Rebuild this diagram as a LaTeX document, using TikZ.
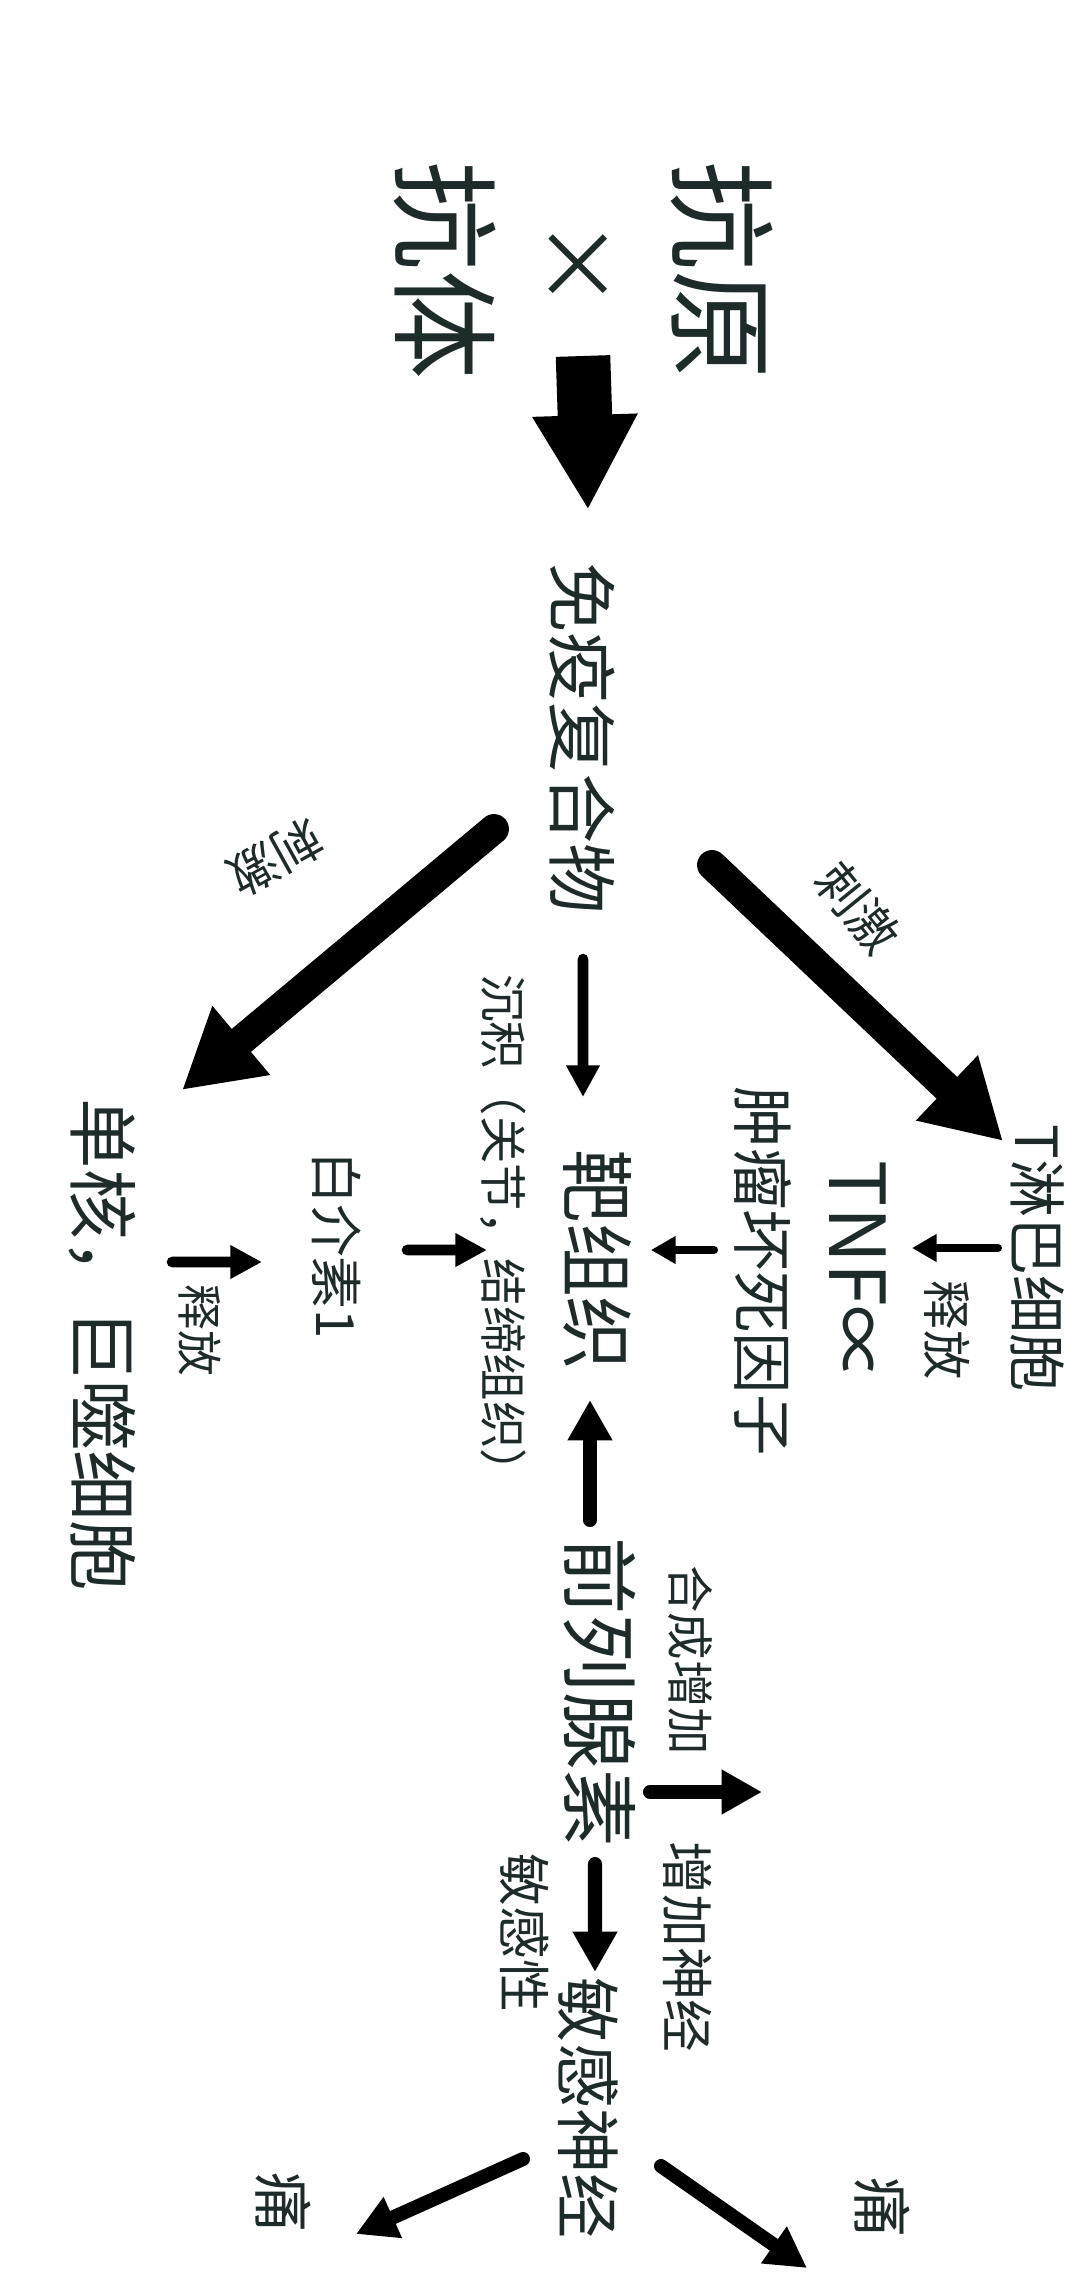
\documentclass[tikz,border=0pt]{standalone}
\usepackage{fontspec}
\usetikzlibrary{arrows.meta}
\newfontfamily\cjk{Noto Sans CJK SC}
\definecolor{ink}{HTML}{1E2B2B}
\newcommand{\fsz}[1]{\fontsize{#1pt}{#1pt}\selectfont}

\begin{document}
\begin{tikzpicture}[
    txt/.style={font=\cjk, text=ink, inner sep=0pt},
    vtxt/.style={txt, rotate=-90},
    thinarrow/.style={line width=2.3pt, line cap=round, -{Triangle[length=7pt,width=7.5pt]}},
    midarrow/.style={line width=3pt, line cap=round, -{Triangle[length=9pt,width=9pt]}},
    medarrow/.style={line width=4pt, line cap=round, -{Triangle[length=11.5pt,width=12pt]}},
    thickarrow/.style={line width=8.5pt, line cap=round, -{Triangle[length=22pt,width=24pt]}},
    blockarrow/.style={line width=15.5pt, -{Triangle[length=27pt,width=28pt]}}
]
    \fill[white] (0,0) rectangle (10.8,-22.8);
    \useasboundingbox (0,0) rectangle (10.8,-22.8);

    % antigen x antibody
    \node[vtxt] (antigen) at (7.22,-2.70) {\fsz{31}抗原};
    \node[txt] (times) at (5.78,-2.67) {\fsz{26}×};
    \node[vtxt] (antibody) at (4.45,-2.70) {\fsz{31}抗体};
    \node[vtxt] (immune) at (5.82,-7.38) {\fsz{20}免疫复合物};

    % middle row
    \node[vtxt] (tcell) at (10.38,-12.58) {\fsz{16.5}T淋巴细胞};
    \node[vtxt] (relR) at (9.47,-13.30) {\fsz{14}释放};
    \node[vtxt] (tnf) at (8.58,-12.72) {\fsz{22}TNF∝};
    \node[vtxt] (tnfname) at (7.63,-12.71) {\fsz{17.5}肿瘤坏死因子};
    \node[vtxt] (target) at (5.98,-12.60) {\fsz{21}靶组织};
    \node[vtxt] (deposit) at (5.03,-12.35) {\fsz{13.5}沉积（关节，结缔组织）};
    \node[vtxt] (il1) at (3.37,-12.45) {\fsz{15}白介素1};
    \node[vtxt] (relL) at (2.00,-13.30) {\fsz{13}释放};
    \node[vtxt] (mono) at (1.02,-13.45) {\fsz{20}单核，巨噬细胞};
    \node[txt, rotate=-151] (stimL) at (2.76,-8.58) {\fsz{14}刺激};
    \node[txt, rotate=-51] (stimR) at (8.58,-9.08) {\fsz{14}刺激};

    % prostaglandin
    \node[vtxt] (pg) at (6.00,-16.92) {\fsz{22}前列腺素};
    \node[vtxt] (synth) at (6.90,-16.60) {\fsz{13.5}合成增加};
    \node[vtxt] (incnerve) at (6.88,-19.47) {\fsz{15}增加神经};
    \node[vtxt] (sens) at (5.25,-19.33) {\fsz{15}敏感性};
    \node[vtxt] (sensnerve) at (5.88,-21.08) {\fsz{18.5}敏感神经};
    \node[vtxt] (painL) at (2.83,-22.02) {\fsz{17}痛};
    \node[vtxt] (painR) at (8.82,-22.07) {\fsz{17}痛};
    \coordinate (pgout) at (7.62,-17.92);

    % arrows
    \draw[blockarrow] ([shift={(0.05,-0.89)}]times.center) -- ([shift={(0.06,2.28)}]immune.center);
    \draw[thickarrow] ([shift={(-0.88,-0.91)}]immune.center) -- ([shift={(0.80,2.55)}]mono.center);
    \draw[thickarrow] ([shift={(1.30,-1.27)}]immune.center) -- ([shift={(-0.35,1.17)}]tcell.center);
    \draw[midarrow] ([shift={(0.01,-2.21)}]immune.center) -- ([shift={(-0.15,1.63)}]target.center);

    \draw[thinarrow] ([shift={(-0.40,0.10)}]tcell.center) -- ([shift={(0.54,0.24)}]tnf.center);
    \draw[thinarrow] ([shift={(-0.49,0.21)}]tnfname.center) -- ([shift={(0.53,0.10)}]target.center);
    \draw[midarrow] ([shift={(0.70,-0.05)}]il1.center) -- ([shift={(-1.11,0.10)}]target.center);
    \draw[midarrow] ([shift={(0.70,0.83)}]mono.center) -- ([shift={(-0.75,-0.17)}]il1.center);

    \draw[medarrow] ([shift={(-0.10,1.72)}]pg.center) -- ([shift={(-0.08,-1.40)}]target.center);
    \draw[medarrow] ([shift={(0.50,-1.00)}]pg.center) -- (pgout);
    \draw[medarrow] ([shift={(-0.05,-1.72)}]pg.center) -- ([shift={(0.07,1.36)}]sensnerve.center);
    \draw[medarrow] ([shift={(-0.65,-0.51)}]sensnerve.center) -- ([shift={(0.73,-0.32)}]painL.center);
    \draw[medarrow] ([shift={(0.73,-0.58)}]sensnerve.center) -- ([shift={(-0.75,-0.61)}]painR.center);
\end{tikzpicture}
\end{document}
